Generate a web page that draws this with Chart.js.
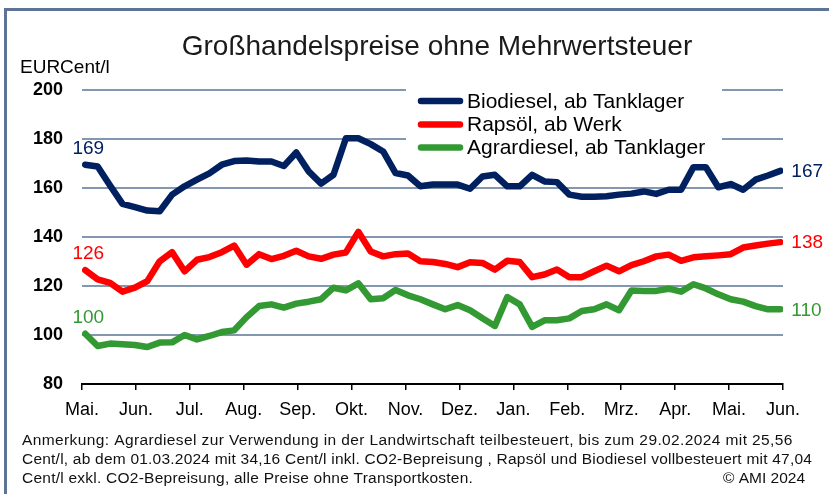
<!DOCTYPE html>
<html>
<head>
<meta charset="utf-8">
<script src="https://cdn.jsdelivr.net/npm/chart.js@4.4.1/dist/chart.umd.min.js"></script>
<style>
  html, body { margin:0; padding:0; background:#fff; }
  #wrap { position:relative; width:829px; height:494px; }
  canvas { position:absolute; left:0; top:0; }
</style>
</head>
<body>
<div id="wrap"><canvas id="c" width="829" height="494"></canvas></div>
<script>
// ---- data ----
const months = ['Mai.','Jun.','Jul.','Aug.','Sep.','Okt.','Nov.','Dez.','Jan.','Feb.','Mrz.','Apr.','Mai.','Jun.'];
const yTicks = [80,100,120,140,160,180,200];
const seriesNames = ['Biodiesel, ab Tanklager','Rapsöl, ab Werk','Agrardiesel, ab Tanklager'];
const biodiesel = [169.5,168.8,161,153.5,152.2,150.8,150.5,157.3,160.7,163.4,166,169.5,171,171.2,
  170.8,170.8,169,174.5,166.8,161.8,165.4,180.3,180.3,177.9,174.9,166.1,165.1,160.7,
  161.4,161.4,161.4,159.7,164.7,165.4,160.7,160.7,165.4,162.7,162.4,157.3,156.4,156.4,
  156.6,157.3,157.7,158.6,157.6,159.3,159.3,168.5,168.5,160.3,161.6,159.3,163.4,165.1,167];
const rapsoel = [126.5,122.7,121.3,117.7,119.3,122,130.1,133.8,126,130.7,131.8,133.8,136.5,128.7,
  133,131,132.3,134.4,132.1,131.1,132.8,133.7,142.1,134.1,132.1,133,133.3,130.1,
  129.8,129,127.7,129.7,129.4,126.7,130.3,129.8,123.6,124.7,126.7,123.6,123.6,126,
  128.3,126,128.5,130.1,132.1,132.8,130.3,131.7,132.1,132.5,133,135.7,136.5,137.3,137.9];
const agrardiesel = [100.5,95.5,96.5,96.2,95.9,95.1,96.9,97,100,98.2,99.6,101.2,101.9,107.3,
  111.8,112.5,111.2,112.8,113.6,114.6,119.3,118.2,121.1,114.6,115,118.4,116.2,114.6,
  112.5,110.5,112.2,110.1,106.8,103.7,115.5,112.5,103.3,106,106,106.8,109.8,110.5,
  112.5,110.1,118.2,118,118,118.9,117.7,120.7,119,116.6,114.6,113.6,111.8,110.5,110.5];
const startLabels = ['169','126','100'];
const endLabels = ['167','138','110'];
const colors = ['#002060','#ff0000','#339933'];
const footLines = [
  'Anmerkung: Agrardiesel zur Verwendung in der Landwirtschaft teilbesteuert, bis zum 29.02.2024 mit 25,56',
  'Cent/l, ab dem 01.03.2024 mit 34,16 Cent/l inkl. CO2-Bepreisung , Rapsöl und Biodiesel vollbesteuert mit 47,04',
  'Cent/l exkl. CO2-Bepreisung, alle Preise ohne Transportkosten.'
];
const copyright = '© AMI 2024';

// weekly observations placed on a month axis (axis unit = 1 month)
const firstWeek = 0.06;
const weekStep = 0.2302;
const toPoints = arr => arr.map((v,i)=>({x: firstWeek + i*weekStep, y: v}));

const FONT = "'Liberation Sans', Arial, sans-serif";

function fitText(ctx, text, x, y, target) {
  ctx.letterSpacing = '0px';
  const w = ctx.measureText(text).width;
  const ls = (target - w) / Math.max(1, text.length - 1);
  ctx.letterSpacing = ls.toFixed(2) + 'px';
  ctx.fillText(text, x, y);
  ctx.letterSpacing = '0px';
}

const decorPlugin = {
  id: 'decor',
  beforeDraw(chart) {
    const ctx = chart.ctx;
    ctx.save();
    ctx.fillStyle = '#fff';
    ctx.fillRect(0,0,chart.width,chart.height);
    // frame
    ctx.strokeStyle = '#5d7496';
    ctx.lineWidth = 3;
    ctx.beginPath();
    ctx.moveTo(5.5, 494);
    ctx.lineTo(5.5, 9.5);
    ctx.lineTo(829, 9.5);
    ctx.stroke();
    // title
    ctx.fillStyle = '#1a1a1a';
    ctx.font = '28px ' + FONT;
    ctx.textAlign = 'center';
    ctx.textBaseline = 'middle';
    ctx.fillText('Großhandelspreise ohne Mehrwertsteuer', 437, 47);
    // unit
    ctx.fillStyle = '#000';
    ctx.font = '19px ' + FONT;
    ctx.textAlign = 'left';
    ctx.fillText('EURCent/l', 20, 68);
    // footnote
    ctx.font = '15.5px ' + FONT;
    ctx.fillStyle = '#111';
    fitText(ctx, footLines[0], 22, 441, 770);
    fitText(ctx, footLines[1], 22, 460, 790);
    fitText(ctx, footLines[2], 22, 479, 451);
    ctx.textAlign = 'right';
    ctx.fillText(copyright, 805, 479);
    ctx.restore();
  },
  afterDatasetsDraw(chart) {
    const ctx = chart.ctx;
    ctx.save();
    // legend box (white, hides grid lines)
    ctx.fillStyle = '#fff';
    ctx.fillRect(406, 84, 316, 76);
    ctx.lineCap = 'round';
    ctx.lineWidth = 6.5;
    ctx.font = '21px ' + FONT;
    ctx.textAlign = 'left';
    ctx.textBaseline = 'middle';
    const rows = [101, 124.5, 147.5];
    chart.data.datasets.forEach((ds, i) => {
      ctx.strokeStyle = ds.borderColor;
      ctx.beginPath();
      ctx.moveTo(421, rows[i]);
      ctx.lineTo(460, rows[i]);
      ctx.stroke();
      ctx.fillStyle = '#000';
      ctx.fillText(ds.label, 467, rows[i] + 1);
    });
    // start / end value labels
    ctx.font = '19px ' + FONT;
    chart.data.datasets.forEach((ds, i) => {
      const pts = chart.getDatasetMeta(i).data;
      const p0 = pts[0], pn = pts[pts.length-1];
      ctx.fillStyle = ds.borderColor;
      ctx.textAlign = 'center';
      ctx.fillText(startLabels[i], p0.x + 3, p0.y - 16);
      ctx.textAlign = 'left';
      ctx.fillText(endLabels[i], pn.x + 11, pn.y + 1);
    });
    ctx.restore();
  }
};

new Chart(document.getElementById('c'), {
  type: 'line',
  data: {
    datasets: [
      {label: seriesNames[0], data: toPoints(biodiesel), borderColor: colors[0]},
      {label: seriesNames[1], data: toPoints(rapsoel), borderColor: colors[1]},
      {label: seriesNames[2], data: toPoints(agrardiesel), borderColor: colors[2]}
    ]
  },
  options: {
    responsive: false,
    animation: false,
    devicePixelRatio: 1,
    layout: {padding: {top: 90, right: 46, left: 0, bottom: 0}},
    plugins: {legend: {display: false}, title: {display: false}, tooltip: {enabled: false}},
    elements: {
      point: {radius: 0},
      line: {borderWidth: 6.5, tension: 0, borderJoinStyle: 'round', borderCapStyle: 'round', fill: false}
    },
    scales: {
      x: {
        type: 'linear', min: 0, max: months.length - 1,
        afterBuildTicks: s => { s.ticks = months.map((m, i) => ({value: i})); },
        afterFit: s => { s.height = 110; },
        ticks: {
          autoSkip: false, maxRotation: 0, color: '#000', padding: 9,
          font: {family: FONT, size: 18},
          callback: (v) => months[Math.round(v)]
        },
        grid: {drawOnChartArea: false, drawTicks: true, tickLength: 6, color: '#000', lineWidth: 1.5},
        border: {display: true, color: '#000', width: 2}
      },
      y: {
        min: 80, max: 200,
        afterBuildTicks: s => { s.ticks = yTicks.map(v => ({value: v})); },
        afterFit: s => { s.width = 82; },
        ticks: {color: '#000', padding: 19, font: {family: FONT, size: 18, weight: 'bold'}},
        grid: {drawTicks: false, lineWidth: 2, color: c => (c.tick && c.tick.value === 80) ? 'rgba(0,0,0,0)' : '#8497b0'},
        border: {display: false}
      }
    }
  },
  plugins: [decorPlugin]
});
</script>
</body>
</html>
